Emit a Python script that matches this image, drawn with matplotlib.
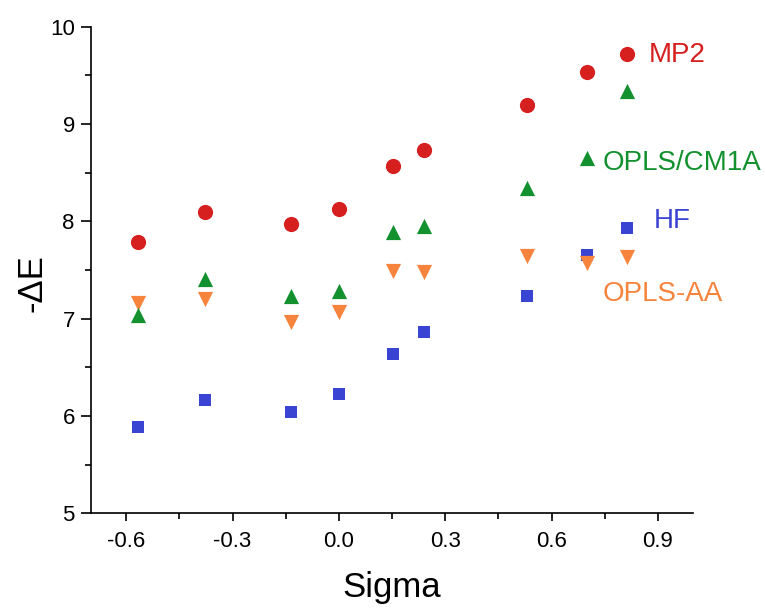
import numpy as np
import matplotlib.pyplot as plt
from matplotlib.ticker import MultipleLocator

plt.rcParams['font.family'] = ['Liberation Sans', 'DejaVu Sans']

# valores
sigma = [-0.568, -0.377, -0.136, 0.0, 0.153, 0.241, 0.532, 0.701, 0.812]
mp2 = [7.785, 8.094, 7.973, 8.124, 8.569, 8.731, 9.193, 9.536, 9.721]
opls_cm1a = [7.04, 7.405, 7.233, 7.288, 7.888, 7.956, 8.346, 8.655, 9.343]
hf = [5.887, 6.164, 6.038, 6.226, 6.640, 6.866, 7.233, 7.655, 7.935]
opls_aa = [7.165, 7.199, 6.969, 7.072, 7.49, 7.477, 7.648, 7.569, 7.637]

ROJO = '#d61f1f'
VERDE = '#13912f'
AZUL = '#3a44d2'
NARANJA = '#f7843c'

fig = plt.figure(figsize=(7.65, 6.14), dpi=100)
ax = fig.add_axes([0.1186, 0.164, 0.7877, 0.7925])

ax.scatter(sigma, hf, marker='s', s=75, color=AZUL, lw=0, zorder=3)
ax.scatter(sigma, opls_aa, marker='v', s=120, color=NARANJA, lw=0, zorder=3)
ax.scatter(sigma, opls_cm1a, marker='^', s=120, color=VERDE, lw=0, zorder=3)
ax.scatter(sigma, mp2, marker='o', s=120, color=ROJO, lw=0, zorder=3)

# etiquetas de cada serie (posicion de la linea base)
ax.text(0.873, 9.641, 'MP2', color=ROJO, fontsize=20, va='baseline')
ax.text(0.743, 8.528, 'OPLS/CM1A', color=VERDE, fontsize=20, va='baseline')
ax.text(0.889, 7.932, 'HF', color=AZUL, fontsize=20, va='baseline')
ax.text(0.743, 7.185, 'OPLS-AA', color=NARANJA, fontsize=20, va='baseline')

ax.set_xlim(-0.7, 1.0)
ax.set_ylim(5, 10)
ax.xaxis.set_minor_locator(MultipleLocator(0.15))
ax.yaxis.set_major_locator(MultipleLocator(1))
ax.yaxis.set_minor_locator(MultipleLocator(0.5))
ax.set_xticks(np.arange(-0.6, 0.91, 0.3))
ax.set_xticklabels(['-0.6', '-0.3', '0.0', '0.3', '0.6', '0.9'])

for lado in ['top', 'right']:
    ax.spines[lado].set_visible(False)
for lado in ['left', 'bottom']:
    ax.spines[lado].set_linewidth(1.2)

ax.tick_params(axis='both', which='major', labelsize=16, width=1.2, direction='out')
ax.tick_params(axis='y', which='major', length=7.5, pad=4)
ax.tick_params(axis='x', which='major', length=5.5, pad=7)
ax.tick_params(axis='both', which='minor', length=4, width=1.2)

ax.set_xlabel('Sigma', fontsize=25, labelpad=14)
ax.set_ylabel('-ΔE', fontsize=25)
ax.yaxis.set_label_coords(-0.07, 0.473)

fig.savefig('out.png', dpi=100)
